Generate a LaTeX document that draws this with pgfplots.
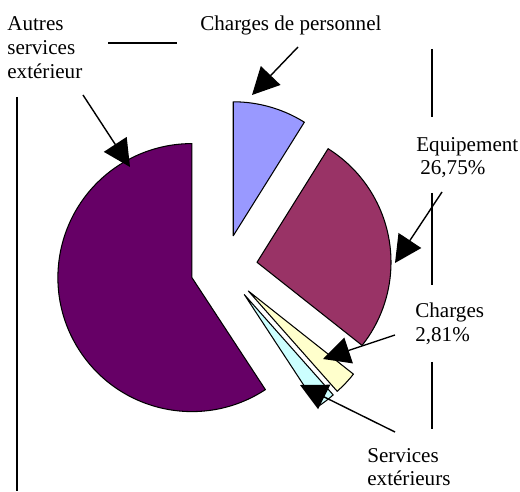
\documentclass[border=0pt]{standalone}
\usepackage{pgfplots}
\pgfplotsset{compat=1.18}
\usepackage{pgfplotstable}
\usepackage{fontspec}
\setmainfont{Liberation Serif}
\usetikzlibrary{arrows.meta}

\definecolor{pc0}{HTML}{9999FF}
\definecolor{pc1}{HTML}{993366}
\definecolor{pc2}{HTML}{FFFFCC}
\definecolor{pc3}{HTML}{CCFFFF}
\definecolor{pc4}{HTML}{660066}

% slices clockwise from 12 o'clock (percent)
\pgfplotstableread{
name value
CP 8.9
EQ 26.75
CH 2.81
SE 2.3
AS 59.24
}\piedata

\def\cx{224}\def\cy{223}\def\rad{134}\def\expl{33.5}

\begin{document}
\begin{tikzpicture}
\def\cumul{0}
\pgfplotsforeachungrouped \i in {0,...,4}{%
  \pgfplotstablegetelem{\i}{value}\of\piedata
  \let\val\pgfplotsretval
  \pgfmathsetmacro\sa{90-3.6*\cumul}%
  \pgfmathsetmacro\cumul{\cumul+\val}%
  \pgfmathsetmacro\ea{90-3.6*\cumul}%
  \pgfmathsetmacro\ma{(\sa+\ea)/2}%
  \pgfmathsetmacro\ax{\cx+\expl*cos(\ma)}%
  \pgfmathsetmacro\ay{\cy+\expl*sin(\ma)}%
  \pgfmathsetmacro\bx{\ax+\rad*cos(\sa)}%
  \pgfmathsetmacro\by{\ay+\rad*sin(\sa)}%
  \expandafter\xdef\csname pieax\i\endcsname{\ax}%
  \expandafter\xdef\csname pieay\i\endcsname{\ay}%
  \expandafter\xdef\csname piebx\i\endcsname{\bx}%
  \expandafter\xdef\csname pieby\i\endcsname{\by}%
  \expandafter\xdef\csname piesa\i\endcsname{\sa}%
  \expandafter\xdef\csname pieea\i\endcsname{\ea}%
}
\begin{axis}[
  width=10.4cm, height=9.82cm, scale only axis,
  xmin=0, xmax=520, ymin=0, ymax=491,
  hide axis, clip=false,
]
\pgfplotsinvokeforeach{0,...,4}{%
  \edef\tmp{\noexpand\filldraw[fill=pc#1,draw=black,line width=0.6pt,line join=round]
    (axis cs:\csname pieax#1\endcsname,\csname pieay#1\endcsname) --
    (axis cs:\csname piebx#1\endcsname,\csname pieby#1\endcsname)
    arc[start angle=\csname piesa#1\endcsname,end angle=\csname pieea#1\endcsname,radius=\rad] -- cycle;}%
  \tmp
}
% leader lines
\draw[line width=0.7pt] (axis cs:17,394) -- (axis cs:17,0);
\draw[line width=0.7pt] (axis cs:108,448) -- (axis cs:177,448);
\draw[line width=0.7pt] (axis cs:432,442) -- (axis cs:432,374);
\draw[line width=0.7pt] (axis cs:432,298) -- (axis cs:432,206);
\draw[line width=0.7pt] (axis cs:432,129) -- (axis cs:432,62);
% arrows
\tikzset{parr/.style={line width=0.8pt,-{Triangle[length=0.54cm,width=0.54cm]}}}
\draw[parr] (axis cs:83,396) -- (axis cs:130,324);
\draw[parr] (axis cs:298,444) -- (axis cs:252,396);
\draw[parr] (axis cs:442,299) -- (axis cs:395,228);
\draw[parr] (axis cs:395,156) -- (axis cs:323,132);
\draw[parr] (axis cs:395,59) -- (axis cs:300,106);
% labels
\tikzset{lab/.style={anchor=base west,inner sep=0pt,font=\fontsize{12}{14}\selectfont}}
\node[lab] at (axis cs:7,460) {Autres};
\node[lab] at (axis cs:7,436) {services};
\node[lab] at (axis cs:7,412) {extérieur};
\node[lab] at (axis cs:200,460) {Charges de personnel};
\node[lab] at (axis cs:416,339) {Equipement};
\node[lab] at (axis cs:420,316) {26,75\%};
\node[lab] at (axis cs:415,173) {Charges};
\node[lab] at (axis cs:415,149) {2,81\%};
\node[lab] at (axis cs:367,29) {Services};
\node[lab] at (axis cs:367,6) {extérieurs};
\end{axis}
\pgfresetboundingbox
\path (0,0) rectangle (10.4cm,9.82cm);
\end{tikzpicture}
\end{document}
